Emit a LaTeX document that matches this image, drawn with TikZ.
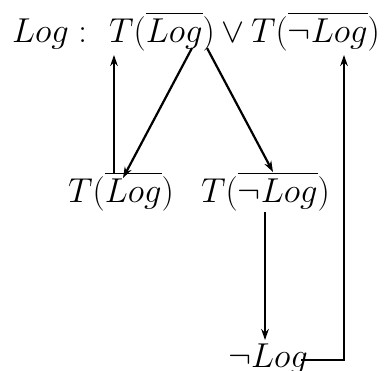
\documentclass[tikz,border=0pt]{standalone}
\usepackage{amsmath,amssymb}
\usetikzlibrary{arrows.meta,calc}

\begin{document}
\begin{tikzpicture}[>={Stealth[length=5.5pt,width=3.8pt]},x=.5pt,y=-.5pt,line width=1.1pt,
 lbl/.style={inner sep=0pt,anchor=base west,font=\fontsize{16.6}{20}\selectfont}]
\useasboundingbox (0,0) rectangle (385,370);
\node[lbl] (hd) at (11,42) {$Log:$};
\node[lbl] (tor) at (108,42) {$T(\overline{Log})$};
\node[lbl,anchor=base] (vee) at (233,42) {$\vee$};
\node[lbl] (tnor) at (250,42) {$T(\overline{\neg Log})$};
\node[lbl] (tl) at (67,202) {$T(\overline{Log})$};
\node[lbl] (tnl) at (200,202) {$T(\overline{\neg Log})$};
\node[lbl] (nl) at (227,367) {$\neg Log$};
\draw[->] ($(tl.base west)+(47,-29)$) -- ($(tor.base west)+(6,13)$);
\draw[->] ($(tor.base west)+(84,6)$) -- ($(tl.base west)+(56,-24)$);
\draw[->] ($(tor.base west)+(99,6)$) -- ($(tnl.base west)+(73,-30)$);
\draw[->] ($(tnl.base west)+(65,10)$) -- ($(nl.base west)+(38,-27)$);
\draw[->] ($(nl.base west)+(74,-7)$) -| ($(tnor.base west)+(94,13)$);
\end{tikzpicture}
\end{document}
